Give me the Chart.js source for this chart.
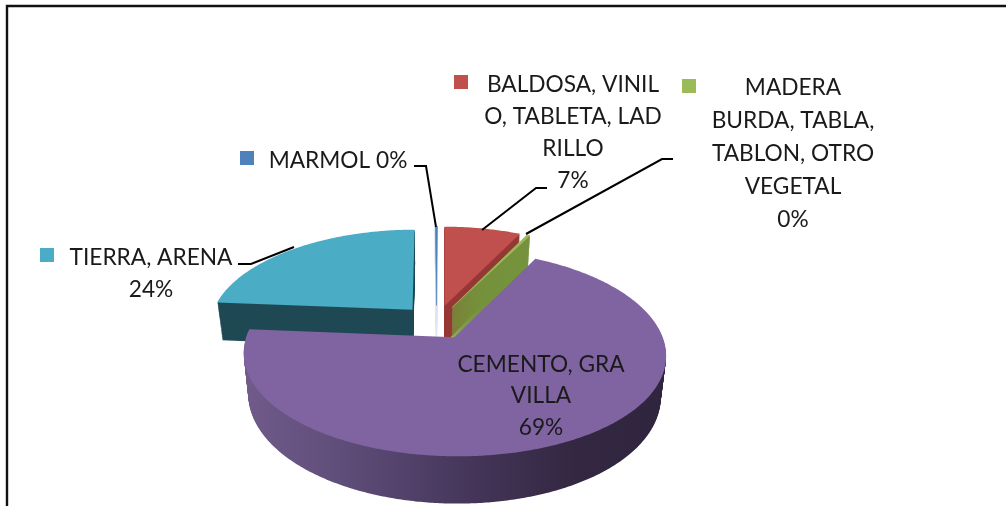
<!DOCTYPE html>
<html><head><meta charset="utf-8">
<script src="https://cdn.jsdelivr.net/npm/chart.js@4"></script>
<style>html,body{margin:0;padding:0;background:#fff;overflow:hidden}canvas{display:block}</style>
</head><body><canvas id="c" width="1006" height="506"></canvas>
<script>
const categories = ['MARMOL','BALDOSA, VINILO, TABLETA, LADRILLO','MADERA BURDA, TABLA, TABLON, OTRO VEGETAL','CEMENTO, GRAVILLA','TIERRA, ARENA'];
const values = [0.2, 7.2, 0.3, 68.7, 23.6];
const topColors = ['#4F81BD','#C0504D','#9BBB59','#8064A2','#4BACC6'];
const wallColors = ['#DDE6F1','#953735','#76923C',null,'#1F4954'];
const drawOrder = [4,0,1,2,3];
const labelLines = [['MARMOL 0%'],['BALDOSA, VINIL','O, TABLETA, LAD','RILLO','7%'],['MADERA','BURDA, TABLA,','TABLON, OTRO','VEGETAL','0%'],['CEMENTO, GRA','VILLA','69%'],['TIERRA, ARENA','24%']];

// layout of the annotations
const labelCx = [338,573,793,541,151];
const labelY = [[161],[85,117,149,181],[88,121,154,187,220],[365,396,428],[258,290]];
const keyBoxes = [[240,151],[454,75],[682,79],null,[40,248]];
const leaders = [
  [[414,166],[426,166],[436,227]],
  [[547,188],[536,188],[482,230]],
  [[673,159],[662,159],[526,234]],
  null,
  [[238,264],[251,264],[294,247]]
];
// 3D camera and explosion distance
const K=0.472, PX=0.0008, PY=0.00075, DEPTH=39, TAPER=0.0006, EXPLODE=36;

function project(cx,cy,u,v,z){
  return [cx+u*(1-TAPER*z)/(1-PX*v), cy+(K*v+z)/(1-PY*v)];
}
function collect(arc){
  const pts=[]; let tx=0,ty=0; const stack=[];
  const own={
    save(){stack.push([tx,ty]);},
    restore(){[tx,ty]=stack.pop();},
    translate(a,b){tx+=a;ty+=b;},
    beginPath(){pts.length=0;},
    moveTo(x,y){pts.push([x+tx,y+ty]);},
    lineTo(x,y){pts.push([x+tx,y+ty]);},
    arc(x,y,r,a0,a1,ccw){
      if(r<=0){pts.push([x+tx,y+ty]);return;}
      const n=Math.max(2,Math.ceil(Math.abs(a1-a0)/0.01));
      for(let i=0;i<=n;i++){const a=a0+(a1-a0)*i/n;pts.push([x+tx+r*Math.cos(a),y+ty+r*Math.sin(a)]);}
    },
    closePath(){}
  };
  const pr=new Proxy(own,{get(t,k){return k in t?t[k]:function(){};},set(t,k,v){t[k]=v;return true;}});
  arc.draw(pr);
  const h=(arc.startAngle+arc.endAngle)/2, ox=Math.cos(h)*EXPLODE, oy=Math.sin(h)*EXPLODE;
  return pts.map(p=>[p[0]-arc.x+ox,p[1]-arc.y+oy]);
}
function fillPoly(ctx,pts,cx,cy,z,style,thin){
  ctx.beginPath();
  pts.forEach((p,i)=>{const s=project(cx,cy,p[0],p[1],z);i?ctx.lineTo(s[0],s[1]):ctx.moveTo(s[0],s[1]);});
  ctx.closePath();ctx.fillStyle=style;ctx.fill();
  if(thin){ctx.strokeStyle=style;ctx.lineWidth=0.6;ctx.stroke();}
}
const pie3d={id:'pie3d',
  beforeDatasetDraw(chart,args){
    const ctx=chart.ctx, arcs=args.meta.data;
    const cx=arcs[0].x, cy=arcs[0].y;
    const grad=ctx.createLinearGradient(245,0,660,0);
    grad.addColorStop(0,'#705B8B');grad.addColorStop(0.25,'#5E4C78');grad.addColorStop(0.55,'#443559');grad.addColorStop(0.8,'#332741');grad.addColorStop(1,'#30253F');
    drawOrder.forEach(i=>{
      const pts=collect(arcs[i]);
      const wall=wallColors[i]||grad;
      const thin=values[i]<1;
      for(let z=DEPTH;z>0;z-=1) fillPoly(ctx,pts,cx,cy,z,wall,thin);
      fillPoly(ctx,pts,cx,cy,0,topColors[i],thin);
    });
    return false;
  },
  afterDraw(chart){
    const ctx=chart.ctx;
    ctx.save();
    ctx.strokeStyle='#111';ctx.lineWidth=2.4;
    ctx.beginPath();ctx.moveTo(7,506);ctx.lineTo(7,6);ctx.lineTo(1006,6);ctx.stroke();
    ctx.lineWidth=2;ctx.strokeStyle='#000';
    leaders.forEach(l=>{if(!l)return;ctx.beginPath();l.forEach((p,i)=>i?ctx.lineTo(p[0],p[1]):ctx.moveTo(p[0],p[1]));ctx.stroke();});
    keyBoxes.forEach((b,i)=>{if(!b)return;ctx.fillStyle=topColors[i];ctx.fillRect(b[0],b[1],14,14);});
    ctx.fillStyle='#1a1a1a';ctx.font='22.7px Lato';ctx.textAlign='center';ctx.textBaseline='middle';
    labelLines.forEach((lines,i)=>lines.forEach((t,j)=>ctx.fillText(t,labelCx[i],labelY[i][j])));
    ctx.restore();
  }
};
new Chart(document.getElementById('c'),{
  type:'pie',
  data:{labels:categories,datasets:[{data:values,backgroundColor:topColors,borderWidth:0}]},
  options:{responsive:false,animation:false,radius:203,rotation:-0.4,
    layout:{padding:{left:0,right:133,top:138,bottom:0}},
    plugins:{legend:{display:false},tooltip:{enabled:false},title:{display:false}}},
  plugins:[pie3d]
});
</script></body></html>
